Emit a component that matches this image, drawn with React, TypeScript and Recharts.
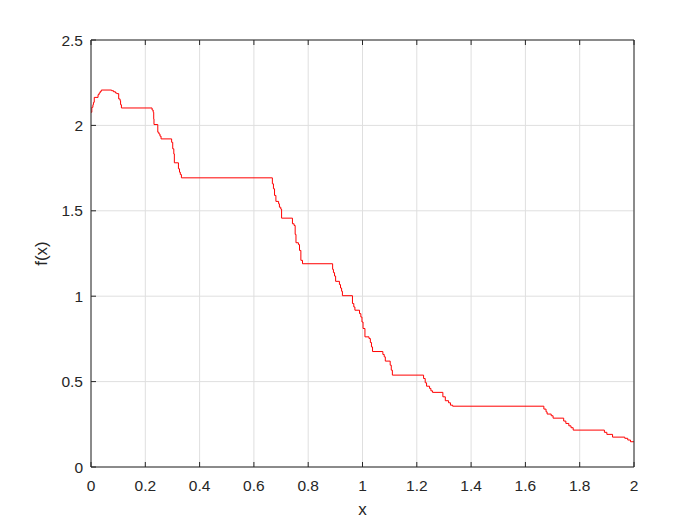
import React from 'react';
import { LineChart, Line, XAxis, YAxis, CartesianGrid } from 'recharts';

// step breakpoints: f holds ys[i] from xs[i] until xs[i+1]
const xs = [
  0, 0.003, 0.007, 0.009, 0.012, 0.026, 0.03, 0.034, 0.038, 0.076, 0.083, 0.09, 0.095, 0.102, 0.107, 0.109,
  0.112, 0.225, 0.229, 0.231, 0.232, 0.246, 0.25, 0.254, 0.258, 0.297, 0.301, 0.305, 0.307, 0.322, 0.326,
  0.329, 0.333, 0.668, 0.672, 0.676, 0.681, 0.691, 0.694, 0.699, 0.702, 0.742, 0.748, 0.752, 0.755, 0.764,
  0.768, 0.773, 0.779, 0.89, 0.893, 0.897, 0.901, 0.915, 0.919, 0.923, 0.926, 0.963, 0.968, 0.972, 0.989,
  0.994, 0.998, 1.002, 1.009, 1.024, 1.029, 1.033, 1.037, 1.075, 1.08, 1.084, 1.102, 1.106, 1.11, 1.225,
  1.231, 1.236, 1.247, 1.252, 1.258, 1.296, 1.305, 1.317, 1.324, 1.332, 1.668, 1.676, 1.68, 1.695, 1.702,
  1.741, 1.749, 1.76, 1.768, 1.776, 1.891, 1.9, 1.921, 1.966, 1.977, 1.987, 2.0,
];
const ys = [
  2.077, 2.106, 2.121, 2.135, 2.164, 2.18, 2.19, 2.199, 2.207, 2.203, 2.197, 2.19, 2.186, 2.155, 2.145, 2.121,
  2.102, 2.09, 2.077, 2.038, 2.005, 1.96, 1.95, 1.937, 1.921, 1.901, 1.863, 1.833, 1.781, 1.746, 1.726,
  1.712, 1.693, 1.658, 1.629, 1.59, 1.555, 1.541, 1.521, 1.51, 1.457, 1.424, 1.414, 1.362, 1.313, 1.302,
  1.268, 1.21, 1.19, 1.157, 1.138, 1.118, 1.087, 1.068, 1.048, 1.029, 1.003, 0.957, 0.937, 0.918, 0.898,
  0.878, 0.849, 0.811, 0.762, 0.752, 0.729, 0.703, 0.676, 0.659, 0.645, 0.62, 0.596, 0.567, 0.538, 0.518,
  0.493, 0.473, 0.46, 0.446, 0.437, 0.411, 0.388, 0.376, 0.362, 0.356, 0.339, 0.323, 0.31, 0.3, 0.286,
  0.269, 0.255, 0.241, 0.23, 0.216, 0.203, 0.191, 0.175, 0.168, 0.158, 0.148, 0.148,
];

const xTicks = [0, 0.2, 0.4, 0.6, 0.8, 1, 1.2, 1.4, 1.6, 1.8, 2];
const yTicks = [0, 0.5, 1, 1.5, 2, 2.5];

const AXIS = '#262626';
const FONT = '"Liberation Sans", Arial, sans-serif';
const TICK_LEN = 5;

const data = xs.map((x, i) => ({ x, y: ys[i] }));

const BottomTick = (props: any) => {
  const { x, y, payload } = props;
  return (
    <g>
      <line x1={x} y1={y} x2={x} y2={y - TICK_LEN} stroke={AXIS} />
      <text x={x} y={y + 24} textAnchor="middle" fill={AXIS} fontSize={15.5} fontFamily={FONT}>
        {payload.value}
      </text>
    </g>
  );
};

const LeftTick = (props: any) => {
  const { x, y, payload } = props;
  return (
    <g>
      <line x1={x} y1={y} x2={x + TICK_LEN} y2={y} stroke={AXIS} />
      <text x={x - 8} y={y + 5.5} textAnchor="end" fill={AXIS} fontSize={15.5} fontFamily={FONT}>
        {payload.value}
      </text>
    </g>
  );
};

const TopTick = (props: any) => (
  <line x1={props.x} y1={props.y} x2={props.x} y2={props.y + TICK_LEN} stroke={AXIS} />
);

const RightTick = (props: any) => (
  <line x1={props.x} y1={props.y} x2={props.x - TICK_LEN} y2={props.y} stroke={AXIS} />
);

const YLabel = (props: any) => {
  const vb = props.viewBox;
  const cx = 47;
  const cy = vb.y + vb.height / 2;
  return (
    <text
      x={cx}
      y={cy}
      transform={`rotate(-90 ${cx} ${cy})`}
      textAnchor="middle"
      fill={AXIS}
      fontSize={17}
      fontFamily={FONT}
    >
      f(x)
    </text>
  );
};

export default function App() {
  return (
    <div style={{ width: 700, height: 525, background: '#fff' }}>
      <style>{'body{margin:0}'}</style>
      <LineChart width={700} height={525} data={data} margin={{ top: 39, right: 65, left: 0, bottom: 0 }}>
        <CartesianGrid stroke="#dfdfdf" />
        <Line
          dataKey="y"
          type="stepAfter"
          stroke="#ff0000"
          strokeWidth={1}
          dot={false}
          activeDot={false}
          isAnimationActive={false}
        />
        <XAxis
          dataKey="x"
          type="number"
          domain={[0, 2]}
          ticks={xTicks}
          interval={0}
          height={58}
          tickSize={0}
          tickMargin={0}
          tickLine={false}
          axisLine={{ stroke: AXIS }}
          tick={<BottomTick />}
          label={{ value: 'x', position: 'insideBottom', offset: 10, fill: AXIS, fontSize: 17, fontFamily: FONT }}
        />
        <XAxis
          xAxisId="top"
          orientation="top"
          dataKey="x"
          type="number"
          domain={[0, 2]}
          ticks={xTicks}
          interval={0}
          height={1}
          tickSize={0}
          tickMargin={0}
          tickLine={false}
          axisLine={{ stroke: AXIS }}
          tick={<TopTick />}
        />
        <YAxis
          type="number"
          domain={[0, 2.5]}
          ticks={yTicks}
          interval={0}
          width={91}
          tickSize={0}
          tickMargin={0}
          tickLine={false}
          axisLine={{ stroke: AXIS }}
          tick={<LeftTick />}
          label={<YLabel />}
        />
        <YAxis
          yAxisId="right"
          orientation="right"
          type="number"
          domain={[0, 2.5]}
          ticks={yTicks}
          interval={0}
          width={1}
          tickSize={0}
          tickMargin={0}
          tickLine={false}
          axisLine={{ stroke: AXIS }}
          tick={<RightTick />}
        />
      </LineChart>
    </div>
  );
}
